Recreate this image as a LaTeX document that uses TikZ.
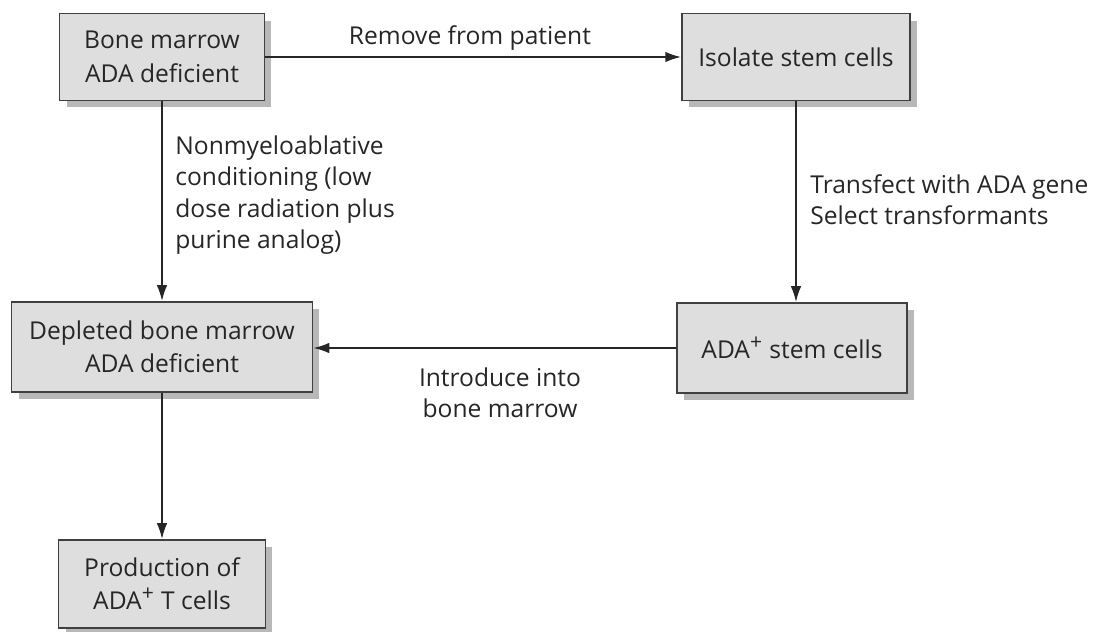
\documentclass[tikz,border=0pt]{standalone}
\usepackage{fontspec}
\setmainfont{Open Sans}
\usetikzlibrary{arrows.meta,shadows}

\newcommand{\plus}{\textsuperscript{\fontsize{12}{12}\selectfont +}}

\begin{document}
\begin{tikzpicture}[x=0.02cm,y=-0.02cm,
    txt/.style={text=black!85,font=\fontsize{14}{17.8}\selectfont},
    box/.style={txt,font=\fontsize{14}{19}\selectfont,draw=black!75,line width=1.1pt,fill=black!13,align=center,inner sep=2pt,
      drop shadow={shadow xshift=0.14cm,shadow yshift=-0.14cm,fill=black!28,opacity=1}},
    lbl/.style={txt,align=left,inner sep=0pt},
    arr/.style={-{Latex[length=9pt,width=6pt]},line width=1pt,draw=black!85}]
    \useasboundingbox (0,0) rectangle (1099,632);

    % boxes
    \node[box,minimum width=4.1cm,minimum height=1.74cm] (marrow) at (162,57) {Bone marrow\\ADA deficient};
    \node[box,minimum width=4.56cm,minimum height=1.74cm] (isolate) at (796,57) {Isolate stem cells};
    \node[box,minimum width=6.02cm,minimum height=1.8cm] (depleted) at (162,347) {Depleted bone marrow\\ADA deficient};
    \node[box,minimum width=4.6cm,minimum height=1.8cm] (adastem) at (792,348) {ADA\plus{} stem cells};
    \node[box,minimum width=4.14cm,minimum height=1.76cm] (production) at (162,584) {Production of\\ADA\plus{} T cells};

    % connectors
    \draw[arr] (marrow) -- (isolate);
    \draw[arr] (marrow) -- (depleted);
    \draw[arr] (isolate.south) -- (isolate.south |- adastem.north);
    \draw[arr] (adastem.west) -- (adastem.west -| depleted.east);
    \draw[arr] (depleted) -- (production);

    % labels
    \node[lbl,align=center] (remove) at (470,38) {Remove from patient};
    \node[lbl,anchor=west] (condition) at (175,195) {Nonmyeloablative\\conditioning (low\\dose radiation plus\\purine analog)};
    \node[lbl,anchor=west] (transfect) at (810,200) {Transfect with ADA gene\\Select transformants};
    \node[lbl,align=center] (introduce) at (500,393) {Introduce into\\bone marrow};
\end{tikzpicture}
\end{document}
